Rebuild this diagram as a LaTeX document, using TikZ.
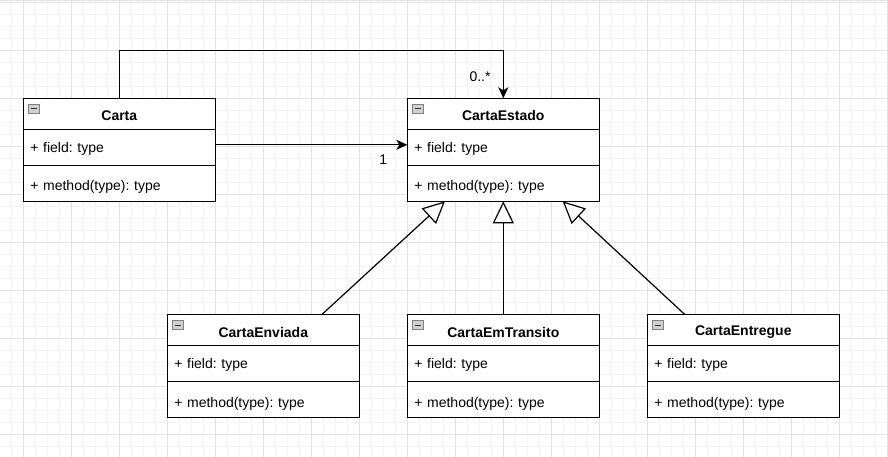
\documentclass[tikz,border=0pt]{standalone}
\usepackage{fontspec}
\setmainfont{Liberation Sans}
\usepackage{tikz}
\usetikzlibrary{positioning,arrows.meta}

\definecolor{minorgrid}{HTML}{F4F4F4}
\definecolor{majorgrid}{HTML}{E2E2E2}
\definecolor{iconfill}{HTML}{D0D0D0}

\tikzset{
  classbox/.style={draw, line width=1.2pt, fill=white, minimum width=192pt, outer sep=0pt,
    font=\fontsize{14}{17}\selectfont\frenchspacing},
  classhead/.style={classbox, minimum height=31pt, font=\fontsize{14}{17}\selectfont\bfseries},
  classpart/.style={classbox, minimum height=36pt, text width=178pt, inner xsep=7pt, align=left},
  assoc/.style={line width=1.2pt, -{Stealth[length=11pt, width=10pt, inset=3pt]}},
  inherit/.style={line width=1.2pt, -{Triangle[length=22pt, width=21pt, fill=white]}},
  mult/.style={font=\fontsize{14}{17}\selectfont},
}

\begin{document}
\begin{tikzpicture}[x=1pt, y=-1pt]
  \useasboundingbox (0,0) rectangle (888,457);
  % background grid
  \foreach \x in {-0.7,11.3,...,888} \draw[minorgrid, line width=1pt] (\x,0) -- (\x,457);
  \foreach \y in {2.7,14.7,...,457} \draw[minorgrid, line width=1pt] (0,\y) -- (888,\y);
  \foreach \x in {23.3,71.3,...,888} \draw[majorgrid, line width=1pt] (\x,0) -- (\x,457);
  \foreach \y in {2.7,50.7,...,457} \draw[majorgrid, line width=1pt] (0,\y) -- (888,\y);
  \draw[majorgrid, line width=1.5pt] (0,0.5) -- (888,0.5);

  % classes
  \foreach \n/\x/\y/\t in {carta/23.3/98.3/Carta, estado/407.3/98.3/CartaEstado,
      enviada/167.3/314.7/CartaEnviada, transito/407.3/314.7/CartaEmTransito,
      entregue/647.3/314.7/CartaEntregue} {
    \node[classhead, anchor=north west] (\n) at (\x,\y) {\rule{0pt}{14pt}\t};
    \node[classpart, below=0pt of \n] (\n-f) {\rule{0pt}{13pt}+ field: type};
    \node[classpart, below=0pt of \n-f] (\n-m) {\rule{0pt}{18pt}+ method(type): type};
    \draw[gray, fill=iconfill, line width=0.8pt] ([shift={(5,6)}]\n.north west) rectangle ++(11,9);
    \draw[black!80, line width=1pt] ([shift={(7.5,10.5)}]\n.north west) -- ++(6,0);
  }

  % associations
  \draw[assoc] (carta.north) -- ++(0,-48) -| (estado.north);
  \node[mult] (many) at (480,77) {0..*};
  \draw[assoc] ([yshift=2.5pt]carta-f.east) -- ([yshift=2.5pt]estado-f.west);
  \node[mult] (one) at (383.3,160) {1};

  % generalizations
  \draw[inherit] ([xshift=58.4pt]enviada.north) -- ([xshift=-58.3pt]estado-m.south);
  \draw[inherit] (transito.north) -- (estado-m.south);
  \draw[inherit] ([xshift=-58.3pt]entregue.north) -- ([xshift=59.4pt]estado-m.south);
\end{tikzpicture}
\end{document}
